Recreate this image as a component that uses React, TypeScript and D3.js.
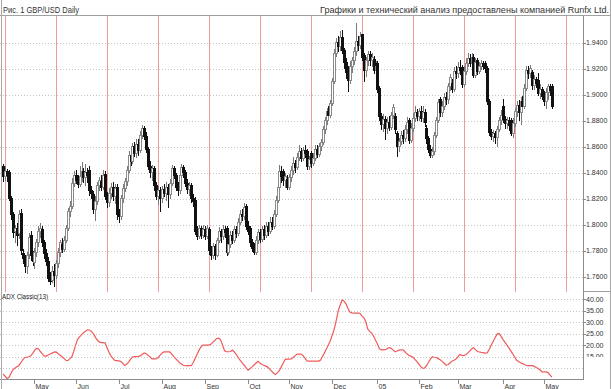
import React from 'react';
import * as d3 from 'd3';

// GBP/USD daily bars, Apr 9 2004 .. May 6 2005 (weekdays)
const opens = [
  1.845,1.837,1.841,1.840,1.820,1.808,1.795,1.797,1.793,1.809,
  1.778,1.774,1.768,1.777,1.792,1.776,1.771,1.779,1.786,1.795,
  1.796,1.786,1.778,1.772,1.760,1.757,1.764,1.761,1.770,1.779,
  1.785,1.781,1.788,1.797,1.810,1.814,1.832,1.838,1.834,1.831,
  1.837,1.841,1.836,1.840,1.842,1.826,1.823,1.812,1.818,1.830,
  1.833,1.829,1.839,1.822,1.817,1.824,1.829,1.822,1.829,1.808,
  1.806,1.820,1.828,1.833,1.842,1.853,1.849,1.860,1.855,1.862,
  1.857,1.869,1.874,1.868,1.858,1.845,1.840,1.843,1.830,1.822,
  1.826,1.820,1.827,1.824,1.829,1.823,1.832,1.843,1.838,1.829,
  1.826,1.838,1.844,1.840,1.832,1.827,1.830,1.820,1.819,1.795,
  1.791,1.797,1.792,1.796,1.791,1.796,1.780,1.776,1.783,1.776,
  1.788,1.795,1.791,1.796,1.797,1.779,1.785,1.792,1.788,1.796,
  1.793,1.802,1.808,1.806,1.814,1.799,1.797,1.786,1.782,1.779,
  1.788,1.794,1.789,1.796,1.792,1.799,1.795,1.802,1.799,1.808,
  1.819,1.829,1.841,1.841,1.834,1.835,1.829,1.836,1.842,1.847,
  1.844,1.852,1.856,1.851,1.857,1.856,1.845,1.855,1.847,1.851,
  1.858,1.854,1.860,1.863,1.873,1.880,1.887,1.884,1.893,1.910,
  1.932,1.940,1.937,1.944,1.934,1.925,1.919,1.911,1.922,1.926,
  1.933,1.941,1.938,1.946,1.930,1.919,1.926,1.931,1.926,1.927,
  1.919,1.924,1.905,1.883,1.877,1.881,1.874,1.879,1.875,1.884,
  1.883,1.870,1.860,1.864,1.869,1.866,1.873,1.880,1.865,1.874,
  1.882,1.886,1.883,1.887,1.882,1.886,1.874,1.866,1.858,1.853,
  1.856,1.869,1.880,1.896,1.886,1.891,1.898,1.896,1.906,1.909,
  1.904,1.918,1.916,1.921,1.921,1.908,1.918,1.924,1.928,1.924,
  1.929,1.915,1.926,1.918,1.922,1.924,1.924,1.920,1.895,1.871,
  1.868,1.870,1.867,1.873,1.880,1.891,1.881,1.878,1.880,1.880,
  1.870,1.878,1.887,1.892,1.886,1.895,1.891,1.905,1.919,1.916,
  1.917,1.907,1.912,1.911,1.901,1.904,1.899,1.895,1.902,1.906,
  1.906,
];

const highs = [
  1.847,1.845,1.843,1.842,1.822,1.810,1.800,1.801,1.811,1.812,
  1.781,1.777,1.779,1.794,1.795,1.780,1.782,1.789,1.799,1.801,
  1.799,1.788,1.781,1.775,1.764,1.768,1.770,1.773,1.782,1.788,
  1.790,1.791,1.800,1.813,1.818,1.836,1.841,1.842,1.838,1.845,
  1.848,1.844,1.847,1.844,1.845,1.830,1.826,1.822,1.833,1.837,
  1.838,1.842,1.841,1.825,1.828,1.832,1.833,1.831,1.831,1.812,
  1.823,1.831,1.836,1.845,1.857,1.857,1.863,1.864,1.866,1.866,
  1.872,1.877,1.876,1.871,1.860,1.849,1.846,1.845,1.833,1.830,
  1.829,1.830,1.831,1.833,1.831,1.835,1.846,1.845,1.840,1.833,
  1.841,1.847,1.846,1.842,1.835,1.833,1.832,1.824,1.821,1.799,
  1.800,1.799,1.800,1.799,1.800,1.798,1.784,1.786,1.785,1.790,
  1.798,1.797,1.800,1.799,1.799,1.789,1.795,1.795,1.799,1.799,
  1.805,1.811,1.812,1.8165,1.816,1.803,1.799,1.789,1.786,1.791,
  1.797,1.797,1.799,1.800,1.802,1.802,1.806,1.806,1.811,1.822,
  1.832,1.846,1.845,1.843,1.840,1.838,1.839,1.845,1.852,1.850,
  1.855,1.861,1.859,1.860,1.861,1.858,1.853,1.857,1.855,1.861,
  1.861,1.863,1.866,1.876,1.883,1.890,1.891,1.896,1.913,1.935,
  1.944,1.945,1.949,1.9497,1.936,1.928,1.922,1.926,1.929,1.937,
  1.955,1.945,1.948,1.947,1.932,1.929,1.934,1.934,1.932,1.930,
  1.926,1.926,1.907,1.886,1.885,1.884,1.883,1.884,1.887,1.893,
  1.886,1.872,1.867,1.872,1.873,1.877,1.883,1.882,1.878,1.886,
  1.891,1.889,1.890,1.891,1.891,1.889,1.877,1.868,1.861,1.860,
  1.871,1.883,1.897,1.898,1.895,1.901,1.902,1.909,1.916,1.912,
  1.921,1.922,1.925,1.927,1.923,1.922,1.928,1.932,1.931,1.932,
  1.931,1.928,1.928,1.925,1.927,1.926,1.926,1.922,1.897,1.874,
  1.873,1.872,1.876,1.883,1.888,1.897,1.884,1.883,1.883,1.882,
  1.882,1.890,1.895,1.896,1.898,1.899,1.908,1.922,1.922,1.923,
  1.919,1.915,1.914,1.917,1.908,1.906,1.903,1.905,1.908,1.908,
  1.908,
];

const lows = [
  1.833,1.834,1.833,1.818,1.804,1.790,1.786,1.784,1.789,1.777,
  1.770,1.763,1.762,1.774,1.772,1.768,1.766,1.775,1.783,1.790,
  1.783,1.774,1.768,1.756,1.7535,1.755,1.752,1.758,1.767,1.775,
  1.778,1.779,1.786,1.795,1.806,1.812,1.829,1.831,1.828,1.829,
  1.833,1.832,1.830,1.832,1.822,1.820,1.808,1.803,1.815,1.826,
  1.826,1.827,1.819,1.813,1.814,1.820,1.818,1.816,1.804,1.801,
  1.804,1.817,1.825,1.830,1.840,1.845,1.847,1.852,1.851,1.853,
  1.855,1.866,1.865,1.855,1.842,1.836,1.834,1.826,1.819,1.815,
  1.810,1.817,1.821,1.818,1.813,1.820,1.830,1.835,1.826,1.822,
  1.824,1.835,1.836,1.829,1.824,1.822,1.817,1.814,1.792,1.788,
  1.789,1.789,1.790,1.788,1.789,1.777,1.773,1.774,1.773,1.775,
  1.786,1.786,1.788,1.790,1.776,1.777,1.782,1.785,1.786,1.790,
  1.791,1.800,1.803,1.804,1.796,1.792,1.783,1.779,1.7765,1.777,
  1.785,1.786,1.787,1.788,1.790,1.791,1.793,1.796,1.797,1.806,
  1.817,1.827,1.832,1.830,1.828,1.827,1.827,1.833,1.838,1.840,
  1.842,1.849,1.848,1.849,1.851,1.842,1.842,1.844,1.845,1.849,
  1.851,1.852,1.857,1.861,1.870,1.877,1.880,1.882,1.891,1.908,
  1.929,1.933,1.934,1.931,1.920,1.912,1.902,1.908,1.917,1.923,
  1.930,1.934,1.935,1.926,1.910,1.914,1.922,1.922,1.921,1.916,
  1.915,1.901,1.880,1.873,1.871,1.865,1.870,1.872,1.873,1.881,
  1.870,1.852,1.856,1.861,1.862,1.864,1.870,1.862,1.863,1.871,
  1.879,1.880,1.880,1.879,1.878,1.875,1.862,1.855,1.851,1.851,
  1.854,1.867,1.878,1.883,1.883,1.888,1.892,1.893,1.903,1.901,
  1.902,1.912,1.913,1.915,1.905,1.906,1.915,1.921,1.921,1.920,
  1.913,1.913,1.915,1.916,1.919,1.919,1.917,1.892,1.868,1.865,
  1.864,1.862,1.860,1.871,1.877,1.878,1.874,1.874,1.872,1.868,
  1.867,1.875,1.883,1.880,1.877,1.888,1.889,1.903,1.912,1.913,
  1.904,1.904,1.905,1.899,1.897,1.896,1.891,1.889,1.896,1.899,
  1.889,
];

const closes = [
  1.837,1.841,1.838,1.820,1.808,1.794,1.797,1.792,1.808,1.780,
  1.774,1.768,1.776,1.790,1.776,1.772,1.779,1.786,1.795,1.797,
  1.786,1.778,1.772,1.759,1.756,1.764,1.761,1.770,1.779,1.786,
  1.781,1.788,1.797,1.810,1.814,1.832,1.838,1.834,1.831,1.837,
  1.841,1.836,1.840,1.838,1.826,1.824,1.812,1.818,1.830,1.834,
  1.829,1.838,1.822,1.817,1.824,1.829,1.822,1.828,1.808,1.806,
  1.820,1.828,1.833,1.842,1.853,1.849,1.860,1.855,1.862,1.857,
  1.869,1.874,1.868,1.858,1.845,1.840,1.843,1.830,1.822,1.826,
  1.820,1.827,1.824,1.829,1.823,1.832,1.843,1.838,1.829,1.826,
  1.838,1.844,1.840,1.832,1.827,1.830,1.820,1.818,1.795,1.791,
  1.797,1.792,1.796,1.791,1.797,1.780,1.776,1.783,1.776,1.788,
  1.795,1.791,1.796,1.794,1.779,1.785,1.792,1.788,1.796,1.793,
  1.802,1.808,1.806,1.813,1.799,1.795,1.786,1.782,1.779,1.788,
  1.794,1.789,1.796,1.792,1.799,1.795,1.802,1.799,1.808,1.819,
  1.829,1.841,1.837,1.834,1.837,1.829,1.836,1.842,1.847,1.844,
  1.852,1.856,1.851,1.857,1.855,1.845,1.850,1.847,1.851,1.858,
  1.854,1.860,1.863,1.873,1.880,1.887,1.884,1.893,1.910,1.932,
  1.940,1.937,1.944,1.934,1.925,1.917,1.911,1.922,1.926,1.933,
  1.941,1.938,1.945,1.929,1.919,1.926,1.931,1.926,1.929,1.919,
  1.922,1.904,1.883,1.877,1.881,1.874,1.879,1.875,1.884,1.890,
  1.873,1.860,1.864,1.869,1.866,1.873,1.879,1.865,1.874,1.882,
  1.886,1.883,1.887,1.882,1.886,1.879,1.866,1.858,1.853,1.856,
  1.869,1.880,1.894,1.886,1.891,1.898,1.896,1.906,1.913,1.904,
  1.918,1.916,1.921,1.919,1.908,1.918,1.924,1.928,1.924,1.929,
  1.915,1.925,1.918,1.922,1.924,1.922,1.920,1.895,1.871,1.868,
  1.870,1.867,1.873,1.880,1.884,1.881,1.878,1.880,1.876,1.870,
  1.878,1.887,1.892,1.886,1.895,1.891,1.905,1.919,1.916,1.920,
  1.907,1.912,1.909,1.901,1.904,1.899,1.895,1.902,1.906,1.903,
  1.891,
];

// ADX Classic(13)
const adx = [
  7.4,6.4,5.4,5.9,7.6,9.2,9.9,10.5,11.0,12.2,
  13.6,14.6,14.7,14.9,15.2,16.3,17.6,18.6,18.4,17.2,
  16.2,15.2,15.2,15.7,16.1,16.5,16.9,17.0,16.3,15.7,
  15.0,14.2,13.4,13.2,14.0,14.7,17.2,20.0,22.5,23.6,
  24.5,25.4,26.0,26.7,26.6,26.1,25.0,23.6,22.2,21.4,
  21.1,21.1,21.0,19.0,16.9,15.3,14.2,13.3,13.2,13.1,
  12.9,12.1,11.1,11.6,12.6,13.8,14.8,15.0,15.0,15.1,
  15.3,16.0,16.6,16.2,15.5,14.8,14.0,14.0,14.0,14.5,
  15.5,16.5,17.0,17.0,17.0,17.0,16.2,15.1,14.1,13.3,
  12.3,11.7,11.2,11.0,11.0,11.0,11.0,12.4,14.2,16.0,
  17.8,19.3,20.0,20.0,20.0,20.0,20.4,21.2,22.0,22.9,
  23.0,22.2,19.9,17.5,17.1,17.1,17.2,17.8,17.0,15.8,
  14.6,13.3,12.2,11.2,10.1,9.1,9.8,10.5,11.3,12.1,
  12.9,12.2,11.5,11.2,10.8,10.4,9.5,8.6,7.7,7.2,
  8.0,8.9,10.6,12.3,13.8,13.9,13.9,14.0,14.6,15.4,
  16.1,16.1,16.1,15.5,14.3,13.1,13.0,13.0,13.0,13.0,
  13.0,13.0,13.5,15.1,16.7,18.4,20.2,22.0,24.6,27.1,
  30.9,35.0,37.5,39.7,39.2,37.9,36.0,34.3,34.1,34.0,
  34.0,34.0,33.9,32.9,32.0,30.4,27.1,26.0,25.3,24.0,
  22.1,20.5,18.4,17.9,17.9,18.0,18.5,18.9,18.6,17.8,
  17.1,17.4,17.8,17.9,17.9,17.1,16.2,15.6,15.2,14.8,
  13.9,12.9,11.8,10.7,9.9,9.9,11.0,12.4,13.9,14.9,
  14.7,14.6,14.1,13.6,12.9,12.1,11.3,11.4,12.2,13.0,
  13.4,13.9,14.9,15.9,15.5,15.4,15.8,16.5,17.4,18.3,
  18.8,18.0,17.2,17.0,16.8,16.7,16.5,16.6,18.1,19.9,
  21.6,23.2,24.8,25.1,23.9,22.5,21.3,20.1,18.8,17.5,
  16.2,14.8,13.4,12.8,12.3,11.9,11.5,11.1,11.0,11.0,
  11.0,10.7,10.2,9.8,9.1,8.3,8.3,8.3,8.0,7.0,
  6.0,
];

const priceTicks = [1.76, 1.78, 1.80, 1.82, 1.84, 1.86, 1.88, 1.90, 1.92, 1.94];
const adxGrid = [10, 15, 20, 25, 30, 35, 40];
const adxLabels = [15, 20, 25, 30, 35, 40];
const monthLabels = ['May', 'Jun', 'Jul', 'Aug', 'Sep', 'Oct', 'Nov', 'Dec', '05', 'Feb', 'Mar', 'Apr', 'May'];
const cycleStart = 1;
const cycleLength = 26;

// trading days (weekdays) for the bars
const dates: Date[] = [];
for (let d = new Date(2004, 3, 9); dates.length < closes.length; d = new Date(d.getFullYear(), d.getMonth(), d.getDate() + 1)) {
  if (d.getDay() !== 0 && d.getDay() !== 6) dates.push(d);
}

const W = 611, H = 389;
const axisX = 583;
const font = 'Liberation Sans, Arial, sans-serif';

export default function App() {
  const n = closes.length;
  const x = d3.scaleLinear().domain([0, n - 1]).range([3.1, 3.1 + (n - 1) * 1.96]);
  const y = d3.scaleLinear().domain([1.76, 1.94]).range([276.7, 42.7]);
  const ya = d3.scaleLinear().domain([10, 40]).range([368, 299.3]);

  const adxLine = d3.line<number>()
    .x((_, i) => x(i))
    .y(d => ya(d));

  // first bar of each month
  const monthStarts: number[] = [];
  dates.forEach((d, i) => {
    if (i > 0 && d.getMonth() !== dates[i - 1].getMonth()) monthStarts.push(i);
  });

  const cycles = d3.range(cycleStart, n + cycleLength, cycleLength).filter(i => x(i) < axisX);

  return (
    <svg width={W} height={H} style={{ position: 'fixed', left: 0, top: 0, background: '#fff' }} fontFamily={font}>
      <defs>
        <clipPath id="pclip"><rect x={0} y={16} width={axisX} height={276} /></clipPath>
        <clipPath id="aclip"><rect x={0} y={292} width={axisX} height={87} /></clipPath>
        <clipPath id="lclip"><rect x={axisX} y={292} width={30} height={65} /></clipPath>
      </defs>
      <rect x={0} y={0} width={W} height={H} fill="#fff" />

      {/* title bar */}
      <text x={3} y={12.5} fontSize={8.5} fill="#333" textLength={76} lengthAdjust="spacingAndGlyphs">Рис. 1 GBP/USD Daily</text>
      <text x={609} y={12.5} fontSize={8.5} fill="#333" textAnchor="end" textLength={289} lengthAdjust="spacingAndGlyphs">Графики и технический анализ предоставлены компанией Runfx Ltd.</text>
      <line x1={0} x2={W} y1={15.5} y2={15.5} stroke="#a0a0a0" />

      {/* price grid */}
      {priceTicks.map(t => (
        <line key={t} x1={0} x2={axisX} y1={Math.round(y(t)) + 0.5} y2={Math.round(y(t)) + 0.5}
          stroke="#c4c4c4" strokeDasharray="1,2" />
      ))}

      {/* cycle lines */}
      {cycles.map(i => (
        <line key={i} x1={Math.round(x(i)) + 0.5} x2={Math.round(x(i)) + 0.5} y1={16} y2={292} stroke="#f29a9a" />
      ))}

      {/* candles */}
      <g clipPath="url(#pclip)" shapeRendering="crispEdges">
        {closes.map((c, i) => {
          const o = opens[i];
          const up = c >= o;
          const cx = Math.round(x(i));
          return (
            <line key={'w' + i} x1={cx + 0.5} x2={cx + 0.5} y1={y(highs[i])} y2={y(lows[i])}
              stroke={up ? '#7a7a7a' : '#111'} />
          );
        })}
        {closes.map((c, i) => {
          const o = opens[i];
          const up = c >= o;
          const cx = Math.round(x(i));
          const top = y(Math.max(o, c));
          const h = Math.max(1, y(Math.min(o, c)) - top);
          return (
            <rect key={'b' + i} x={cx - 0.5} y={top} width={2} height={h}
              fill={up ? '#fff' : '#111'} stroke={up ? '#8a8a8a' : '#111'} strokeWidth={1} />
          );
        })}
      </g>

      {/* right axis */}
      <line x1={axisX + 0.5} x2={axisX + 0.5} y1={16} y2={380} stroke="#8c8c8c" />
      {priceTicks.map(t => (
        <g key={'pl' + t}>
          <line x1={axisX} x2={axisX + 3} y1={Math.round(y(t)) + 0.5} y2={Math.round(y(t)) + 0.5} stroke="#8c8c8c" />
          <text x={axisX + 3} y={y(t) + 2.5} fontSize={7} fill="#333">{t.toFixed(4)}</text>
        </g>
      ))}
      <line x1={axisX} x2={W} y1={291.5} y2={291.5} stroke="#a0a0a0" />

      {/* ADX panel */}
      <text x={2} y={298.5} fontSize={7} fill="#222" textLength={46} lengthAdjust="spacingAndGlyphs">ADX Classic(13)</text>
      {adxGrid.map(t => (
        <line key={'ag' + t} x1={0} x2={axisX} y1={Math.round(ya(t)) + 0.5} y2={Math.round(ya(t)) + 0.5}
          stroke="#c4c4c4" strokeDasharray="1,2" />
      ))}
      <g clipPath="url(#lclip)">
        {adxLabels.map(t => (
          <g key={'al' + t}>
            <line x1={axisX} x2={axisX + 3} y1={Math.round(ya(t)) + 0.5} y2={Math.round(ya(t)) + 0.5} stroke="#8c8c8c" />
            <text x={axisX + 3} y={ya(t) + 2.5} fontSize={7} fill="#333">{t.toFixed(2)}</text>
          </g>
        ))}
      </g>
      <path d={adxLine(adx) || ''} fill="none" stroke="#f05a5a" strokeWidth={1.2} clipPath="url(#aclip)" />

      {/* time axis */}
      <line x1={0} x2={axisX + 1} y1={379.5} y2={379.5} stroke="#8c8c8c" />
      {monthStarts.map((i, k) => (
        <g key={'m' + i}>
          <line x1={Math.round(x(i)) + 0.5} x2={Math.round(x(i)) + 0.5} y1={380} y2={384} stroke="#8c8c8c" />
          <text x={Math.round(x(i)) + 1.5} y={388.5} fontSize={7} fill="#333">{monthLabels[k]}</text>
        </g>
      ))}

      {/* frame */}
      <line x1={1.5} x2={1.5} y1={0} y2={H} stroke="#a8a8a8" />
      <line x1={W - 0.5} x2={W - 0.5} y1={0} y2={H} stroke="#a8a8a8" />
    </svg>
  );
}
